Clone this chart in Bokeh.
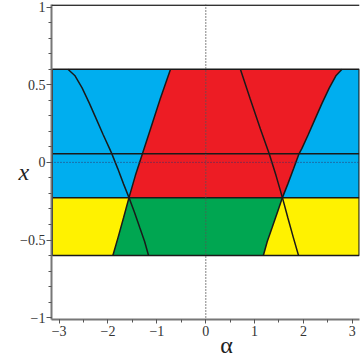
import numpy as np
from bokeh.plotting import figure
from bokeh.models import Span, CustomJSTickFormatter, FixedTicker
from bokeh.embed import file_html
from bokeh.resources import INLINE

# ---- data ----
X_LEFT, X_RIGHT = -3.1416, 3.1416
BAND_TOP, BAND_BOTTOM = 0.6, -0.6
SPLIT_Y = -0.227
LEVEL_Y = 0.055

# curve A (left, descending)
A_alpha = [-2.82, -2.68, -2.53, -2.38, -2.24, -2.10, -1.97, -1.92, -1.80, -1.68, -1.57, -1.46, -1.35, -1.25, -1.17]
A_x = [0.60, 0.56, 0.48, 0.38, 0.28, 0.18, 0.09, 0.055, -0.04, -0.14, -0.227, -0.32, -0.42, -0.51, -0.60]
# curve B (left, ascending; left border of red/green)
B_alpha = [-1.90, -1.79, -1.68, -1.57, -1.44, -1.295, -1.13, -0.93, -0.72]
B_x = [-0.60, -0.48, -0.355, -0.227, -0.085, 0.055, 0.215, 0.41, 0.60]
# curve C (right, descending)
C_alpha = [1.90, 1.79, 1.68, 1.57, 1.44, 1.30, 1.12, 0.91, 0.71]
C_x = [-0.60, -0.48, -0.355, -0.227, -0.085, 0.055, 0.215, 0.41, 0.60]
# curve D (right, ascending; right border of red/green)
D_alpha = [1.18, 1.26, 1.36, 1.47, 1.57, 1.68, 1.80, 1.91, 1.97, 2.10, 2.24, 2.38, 2.53, 2.67, 2.79]
D_x = [-0.60, -0.51, -0.42, -0.32, -0.227, -0.14, -0.04, 0.055, 0.09, 0.18, 0.28, 0.38, 0.48, 0.56, 0.60]

x_ticks = [-3, -2, -1, 0, 1, 2, 3]
x_minor = [-3, -2.5, -2, -1.5, -1, -0.5, 0, 0.5, 1, 1.5, 2, 2.5, 3]
y_ticks = [-1, -0.5, 0, 0.5, 1]
y_minor = [-1, -0.9, -0.8, -0.7, -0.6, -0.5, -0.4, -0.3, -0.2, -0.1, 0,
           0.1, 0.2, 0.3, 0.4, 0.5, 0.6, 0.7, 0.8, 0.9, 1]

BLUE, RED, YELLOW, GREEN = "#00AEEF", "#ED1C24", "#FFF200", "#00A651"
INK = "#1a1a1a"

p = figure(width=360, height=360, x_range=(-3.156, 3.148), y_range=(-1.012, 1.017),
           output_backend="svg", toolbar_location=None,
           min_border_left=51, min_border_right=1, min_border_top=4, min_border_bottom=41)
p.grid.visible = False
p.outline_line_color = None
p.background_fill_color = "white"
p.border_fill_color = "white"

fmt = CustomJSTickFormatter(code="return String(tick).replace('-', '\u2212');")
for ax, ticks, minor, out in ((p.xaxis[0], x_ticks, x_minor, 4), (p.yaxis[0], y_ticks, y_minor, 5)):
    ax.ticker = FixedTicker(ticks=ticks, minor_ticks=minor)
    ax.formatter = fmt
    ax.axis_line_color = "#777777"
    ax.axis_line_width = 2
    ax.major_tick_line_color = "#555555"
    ax.minor_tick_line_color = "#555555"
    ax.major_tick_out = out
    ax.major_tick_in = 0
    ax.minor_tick_out = 3
    ax.minor_tick_in = 0
    ax.major_label_text_font = "Liberation Serif"
    ax.major_label_text_font_size = "14px"
    ax.major_label_text_color = "#333333"
    ax.axis_label_text_font = "Liberation Serif"
    ax.axis_label_text_font_size = "24px"
    ax.axis_label_text_color = "#222222"
p.xaxis.major_label_standoff = 2
p.yaxis.major_label_standoff = 1

p.xaxis.axis_label = "\u00a0" * 7 + "α"
p.xaxis.axis_label_text_font_style = "normal"
p.xaxis.axis_label_standoff = -7
p.yaxis.axis_label = "\u00a0\nx"
p.yaxis.axis_label_text_font_style = "italic"
p.yaxis.axis_label_text_line_height = 0.75
p.yaxis.axis_label_standoff = -12
try:
    p.yaxis.axis_label_orientation = "horizontal"
except Exception:
    pass

# band backgrounds
p.quad(left=[X_LEFT], right=[X_RIGHT], bottom=[SPLIT_Y], top=[BAND_TOP], fill_color=BLUE, line_color=None)
p.quad(left=[X_LEFT], right=[X_RIGHT], bottom=[BAND_BOTTOM], top=[SPLIT_Y], fill_color=YELLOW, line_color=None)

bx, by = np.array(B_alpha), np.array(B_x)
dx, dy = np.array(D_alpha), np.array(D_x)
up_b, up_d = by >= SPLIT_Y - 1e-9, dy >= SPLIT_Y - 1e-9
lo_b, lo_d = by <= SPLIT_Y + 1e-9, dy <= SPLIT_Y + 1e-9
red_x = list(bx[up_b]) + list(dx[up_d][::-1])
red_y = list(by[up_b]) + list(dy[up_d][::-1])
green_x = list(bx[lo_b]) + list(dx[lo_d][::-1])
green_y = list(by[lo_b]) + list(dy[lo_d][::-1])
p.patch(red_x, red_y, fill_color=RED, line_color=None)
p.patch(green_x, green_y, fill_color=GREEN, line_color=None)

for cx, cy in ((A_alpha, A_x), (B_alpha, B_x), (C_alpha, C_x), (D_alpha, D_x)):
    p.line(cx, cy, line_color=INK, line_width=1.5)

p.line([X_LEFT, X_RIGHT], [LEVEL_Y, LEVEL_Y], line_color=INK, line_width=1.5)
p.line([X_LEFT, X_RIGHT], [SPLIT_Y, SPLIT_Y], line_color=INK, line_width=1.5)
p.quad(left=[X_LEFT], right=[X_RIGHT], bottom=[BAND_BOTTOM], top=[BAND_TOP],
       fill_color=None, line_color=INK, line_width=1.5)

p.add_layout(Span(location=0, dimension="height", line_color="#555555", line_width=1.5, line_dash="1 2"))
p.add_layout(Span(location=0, dimension="width", line_color="#333366", line_width=1, line_dash="1 2"))
p.add_layout(Span(location=1.013, dimension="width", line_color="#333333", line_width=1.7))

open("out.html", "w").write(file_html(p, INLINE))
